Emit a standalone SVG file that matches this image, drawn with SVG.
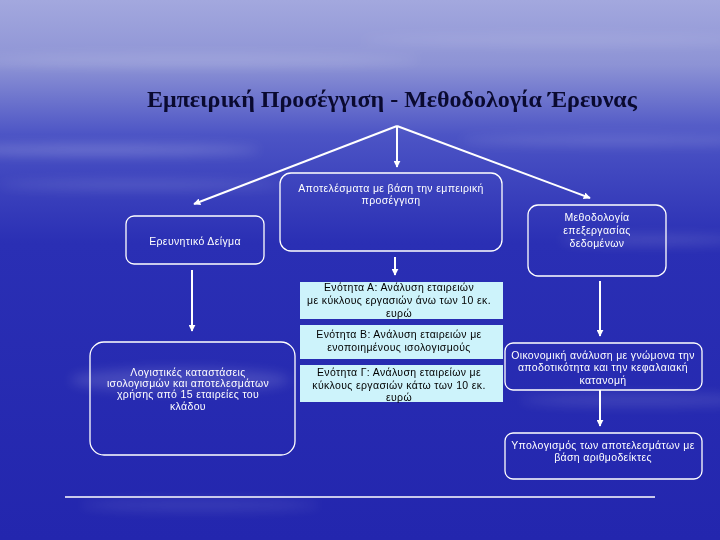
<svg xmlns="http://www.w3.org/2000/svg" width="720" height="540" viewBox="0 0 720 540">
<defs>
<linearGradient id="bg" x1="0" y1="0" x2="0" y2="1">
<stop offset="0" stop-color="#a3a8de"/>
<stop offset="0.12" stop-color="#8d93d5"/>
<stop offset="0.25" stop-color="#4c54c5"/>
<stop offset="0.45" stop-color="#2a2fb4"/>
<stop offset="1" stop-color="#2326ae"/>
</linearGradient>
<filter id="blur" x="-50%" y="-50%" width="200%" height="200%"><feGaussianBlur stdDeviation="6"/></filter>
<marker id="ah" viewBox="0 0 10 10" refX="9" refY="5" markerWidth="3.5" markerHeight="3.5" orient="auto" markerUnits="strokeWidth">
<path d="M0,0 L10,5 L0,10 z" fill="#ffffff"/>
</marker>
<style>
.box{fill:none;stroke:#ffffff;stroke-width:1.3}
.cyan{fill:#cdf3fb;stroke:none}
.t{font-family:"Liberation Sans",Arial,sans-serif;font-size:10.5px;letter-spacing:0.35px;fill:#ffffff;text-anchor:middle}
.tc{font-family:"Liberation Sans",Arial,sans-serif;font-size:10.5px;letter-spacing:0.35px;fill:#000000;text-anchor:middle}
.conn{stroke:#ffffff;stroke-width:2;fill:none}
</style>
</defs>
<rect width="720" height="540" fill="url(#bg)"/>
<g filter="url(#blur)" fill="#ffffff">
<ellipse cx="200" cy="60" rx="220" ry="6" opacity="0.15"/>
<ellipse cx="560" cy="40" rx="200" ry="5" opacity="0.12"/>
<ellipse cx="100" cy="150" rx="160" ry="5" opacity="0.22"/>
<ellipse cx="620" cy="140" rx="160" ry="5" opacity="0.15"/>
<ellipse cx="140" cy="185" rx="140" ry="4" opacity="0.15"/>
<ellipse cx="650" cy="240" rx="90" ry="5" opacity="0.15"/>
<ellipse cx="180" cy="380" rx="110" ry="12" opacity="0.14"/>
<ellipse cx="640" cy="400" rx="120" ry="6" opacity="0.12"/>
<ellipse cx="200" cy="505" rx="120" ry="6" opacity="0.1"/>
</g>
<text x="392" y="107" font-family="'Liberation Serif','Times New Roman',serif" font-size="24" font-weight="bold" fill="#0a0a30" text-anchor="middle">Εμπειρική Προσέγγιση - Μεθοδολογία Έρευνας</text>
<g id="connectors">
<line class="conn" x1="397" y1="126" x2="194" y2="204" marker-end="url(#ah)"/>
<line class="conn" x1="397" y1="126" x2="590" y2="198" marker-end="url(#ah)"/>
<line class="conn" x1="397" y1="126" x2="397" y2="167" marker-end="url(#ah)"/>
<line class="conn" x1="395" y1="257" x2="395" y2="275" marker-end="url(#ah)"/>
<line class="conn" x1="192" y1="270" x2="192" y2="331" marker-end="url(#ah)"/>
<line class="conn" x1="600" y1="281" x2="600" y2="336" marker-end="url(#ah)"/>
<line class="conn" x1="600" y1="390" x2="600" y2="426" marker-end="url(#ah)"/>
</g>
<g id="n-apotelesmata">
<rect class="box" x="280" y="173" width="222" height="78" rx="11"/>
<text class="t" x="391" y="192">Αποτελέσματα με βάση την εμπειρική</text>
<text class="t" x="391" y="204">προσέγγιση</text>
</g>
<g id="n-deigma">
<rect class="box" x="126" y="216" width="138" height="48" rx="8"/>
<text class="t" x="195" y="245">Ερευνητικό Δείγμα</text>
</g>
<g id="n-methodologia">
<rect class="box" x="528" y="205" width="138" height="71" rx="10"/>
<text class="t" x="597" y="221">Μεθοδολογία</text>
<text class="t" x="597" y="234">επεξεργασίας</text>
<text class="t" x="597" y="247">δεδομένων</text>
</g>
<g id="n-enotita-a">
<rect class="cyan" x="300" y="282" width="203" height="37"/>
<text class="tc" x="399" y="291">Ενότητα Α: Ανάλυση εταιρειών</text>
<text class="tc" x="399" y="304">με κύκλους εργασιών άνω των 10 εκ.</text>
<text class="tc" x="399" y="317">ευρώ</text>
</g>
<g id="n-enotita-b">
<rect class="cyan" x="300" y="325" width="203" height="34"/>
<text class="tc" x="399" y="338">Ενότητα Β: Ανάλυση εταιρειών με</text>
<text class="tc" x="399" y="351">ενοποιημένους ισολογισμούς</text>
</g>
<g id="n-enotita-g">
<rect class="cyan" x="300" y="365" width="203" height="37"/>
<text class="tc" x="399" y="376">Ενότητα Γ: Ανάλυση εταιρείων με</text>
<text class="tc" x="399" y="389">κύκλους εργασιών κάτω των 10 εκ.</text>
<text class="tc" x="399" y="401">ευρώ</text>
</g>
<g id="n-logistikes">
<rect class="box" x="90" y="342" width="205" height="113" rx="14"/>
<text class="t" x="188" y="376">Λογιστικές καταστάσεις</text>
<text class="t" x="188" y="387">ισολογισμών και αποτελεσμάτων</text>
<text class="t" x="188" y="398">χρήσης από 15 εταιρείες του</text>
<text class="t" x="188" y="410">κλάδου</text>
</g>
<g id="n-oikonomiki">
<rect class="box" x="505" y="343" width="197" height="47" rx="8"/>
<text class="t" x="603" y="359">Οικονομική ανάλυση με γνώμονα την</text>
<text class="t" x="603" y="371">αποδοτικότητα και την κεφαλαιακή</text>
<text class="t" x="603" y="384">κατανομή</text>
</g>
<g id="n-ypologismos">
<rect class="box" x="505" y="433" width="197" height="46" rx="8"/>
<text class="t" x="603" y="449">Υπολογισμός των αποτελεσμάτων με</text>
<text class="t" x="603" y="461">βάση αριθμοδείκτες</text>
</g>
<line x1="65" y1="497" x2="655" y2="497" stroke="#ffffff" stroke-width="1.3"/>
</svg>
